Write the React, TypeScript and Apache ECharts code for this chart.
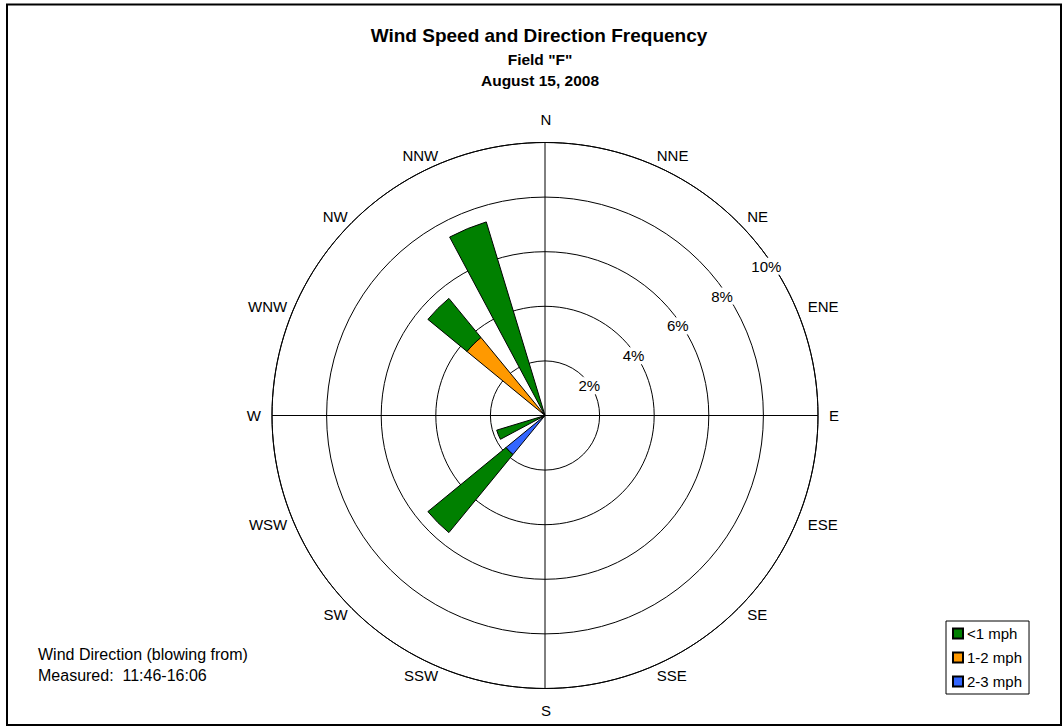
import React, { useEffect, useRef } from "react";
import * as echarts from "echarts";

const directions = ["N", "NNE", "NE", "ENE", "E", "ESE", "SE", "SSE", "S", "SSW", "SW", "WSW", "W", "WNW", "NW", "NNW"];
// frequency (%) of each speed class per direction, null = none
const below1mph = [null, null, null, null, null, null, null, null, null, null, 3.7, 1.85, null, null, 1.85, 7.41];
const from1to2mph = [null, null, null, null, null, null, null, null, null, null, null, null, null, null, 3.7, null];
const from2to3mph = [null, null, null, null, null, null, null, null, null, null, 1.85, null, null, null, null, null];
const seriesNames = ["<1 mph", "1-2 mph", "2-3 mph"];
const radiusTicks = { min: 0, max: 10, interval: 2 };
const titleLines = ["Wind Speed and Direction Frequency", 'Field "F"', "August 15, 2008"];
const noteLines = ["Wind Direction (blowing from)", "Measured:  11:46-16:06"];

const FONT = 'Arial, "Liberation Sans", sans-serif';

// extra spacing of the four cardinal labels from the rim
const cardinalPadding: Record<string, number[]> = {
  N: [0, 0, 15, 2],
  S: [14, 0, 0, 2],
  E: [0, 0, 0, 5],
  W: [0, 5, 0, 0],
};

export default function App() {
  const ref = useRef<HTMLDivElement>(null);
  useEffect(() => {
    if (!ref.current) return;
    const chart = echarts.init(ref.current, null, { renderer: "svg" });
    const center = [545, 415.5];
    const radius = 273;
    const barStyle = (color: string) => ({ color, borderColor: "#000", borderWidth: 1 });
    const categoryData = directions.map((d) =>
      cardinalPadding[d] ? { value: d, textStyle: { padding: cardinalPadding[d] } } : d
    );
    chart.setOption({
      animation: false,
      backgroundColor: "#fff",
      textStyle: { fontFamily: FONT },
      polar: [
        { center, radius },
        { center, radius },
        { center, radius: 267 },
      ],
      angleAxis: [
        {
          polarIndex: 0,
          type: "category",
          data: categoryData,
          boundaryGap: false,
          startAngle: 90,
          clockwise: true,
          axisLine: { show: false },
          axisTick: { show: false },
          splitLine: { show: false },
          axisLabel: { interval: 0, color: "#000", fontSize: 15, lineHeight: 4, fontFamily: FONT, margin: 6, padding: [0, 0, 0, 5] },
        },
        {
          polarIndex: 1,
          type: "value",
          min: 0,
          max: 360,
          interval: 90,
          startAngle: 90,
          axisLine: { show: true, lineStyle: { color: "#000", width: 1 } },
          axisTick: { show: false },
          axisLabel: { show: false },
          splitLine: { show: true, lineStyle: { color: "#000", width: 1 } },
        },
        {
          polarIndex: 2,
          type: "value",
          min: 0,
          max: 360,
          startAngle: 34,
          show: false,
        },
      ],
      radiusAxis: [
        {
          polarIndex: 0,
          type: "value",
          ...radiusTicks,
          show: false,
        },
        {
          polarIndex: 1,
          type: "value",
          ...radiusTicks,
          axisLine: { show: false },
          axisTick: { show: false },
          axisLabel: { show: false },
          splitLine: { show: true, lineStyle: { color: "#000", width: 1 } },
        },
        {
          polarIndex: 2,
          type: "value",
          ...radiusTicks,
          axisLine: { show: false },
          axisTick: { show: false },
          splitLine: { show: false },
          z: 5,
          axisLabel: {
            show: true,
            showMinLabel: false,
            formatter: "{value}%",
            color: "#000",
            fontSize: 15,
            fontFamily: FONT,
            margin: 0,
            align: "center",
            verticalAlign: "middle",
            backgroundColor: "#fff",
            padding: [1, 2],
          },
        },
      ],
      legend: {
        data: seriesNames,
        orient: "vertical",
        left: 946,
        top: 621,
        padding: [5, 7, 5, 6],
        itemWidth: 10,
        itemHeight: 10,
        itemGap: 9,
        icon: "rect",
        borderColor: "#000",
        borderWidth: 1,
        borderRadius: 0,
        backgroundColor: "#fff",
        textStyle: { fontSize: 15, color: "#000", fontFamily: FONT, padding: [0, 0, 0, -1] },
      },
      series: [
        {
          name: seriesNames[2],
          type: "bar",
          coordinateSystem: "polar",
          polarIndex: 0,
          stack: "speed",
          data: from2to3mph,
          barWidth: "50%",
          itemStyle: barStyle("#3366FF"),
          z: 3,
        },
        {
          name: seriesNames[1],
          type: "bar",
          coordinateSystem: "polar",
          polarIndex: 0,
          stack: "speed",
          data: from1to2mph,
          barWidth: "50%",
          itemStyle: barStyle("#FF9900"),
          z: 3,
        },
        {
          name: seriesNames[0],
          type: "bar",
          coordinateSystem: "polar",
          polarIndex: 0,
          stack: "speed",
          data: below1mph,
          barWidth: "50%",
          itemStyle: barStyle("#008000"),
          z: 3,
        },
      ],
      graphic: [
        {
          type: "rect",
          shape: { x: 7, y: 4.5, width: 1054, height: 720.5 },
          style: { fill: "none", stroke: "#000", lineWidth: 2 },
          z: 100,
        },
        {
          type: "text",
          x: 539,
          y: 35.5,
          style: { text: titleLines[0], fontSize: 19, fontWeight: "bold", fontFamily: FONT, fill: "#000", align: "center", verticalAlign: "middle" },
        },
        {
          type: "text",
          x: 540,
          y: 59,
          style: { text: titleLines[1], fontSize: 15.5, fontWeight: "bold", fontFamily: FONT, fill: "#000", align: "center", verticalAlign: "middle" },
        },
        {
          type: "text",
          x: 540,
          y: 80.5,
          style: { text: titleLines[2], fontSize: 15.5, fontWeight: "bold", fontFamily: FONT, fill: "#000", align: "center", verticalAlign: "middle" },
        },
        {
          type: "text",
          x: 38,
          y: 654,
          style: { text: noteLines[0], fontSize: 16, fontFamily: FONT, fill: "#000", align: "left", verticalAlign: "middle" },
        },
        {
          type: "text",
          x: 38,
          y: 675.5,
          style: { text: noteLines[1], fontSize: 16, fontFamily: FONT, fill: "#000", align: "left", verticalAlign: "middle" },
        },
      ],
    });
    return () => chart.dispose();
  }, []);
  return <div ref={ref} style={{ position: "absolute", left: 0, top: 0, width: 1064, height: 727 }} />;
}
